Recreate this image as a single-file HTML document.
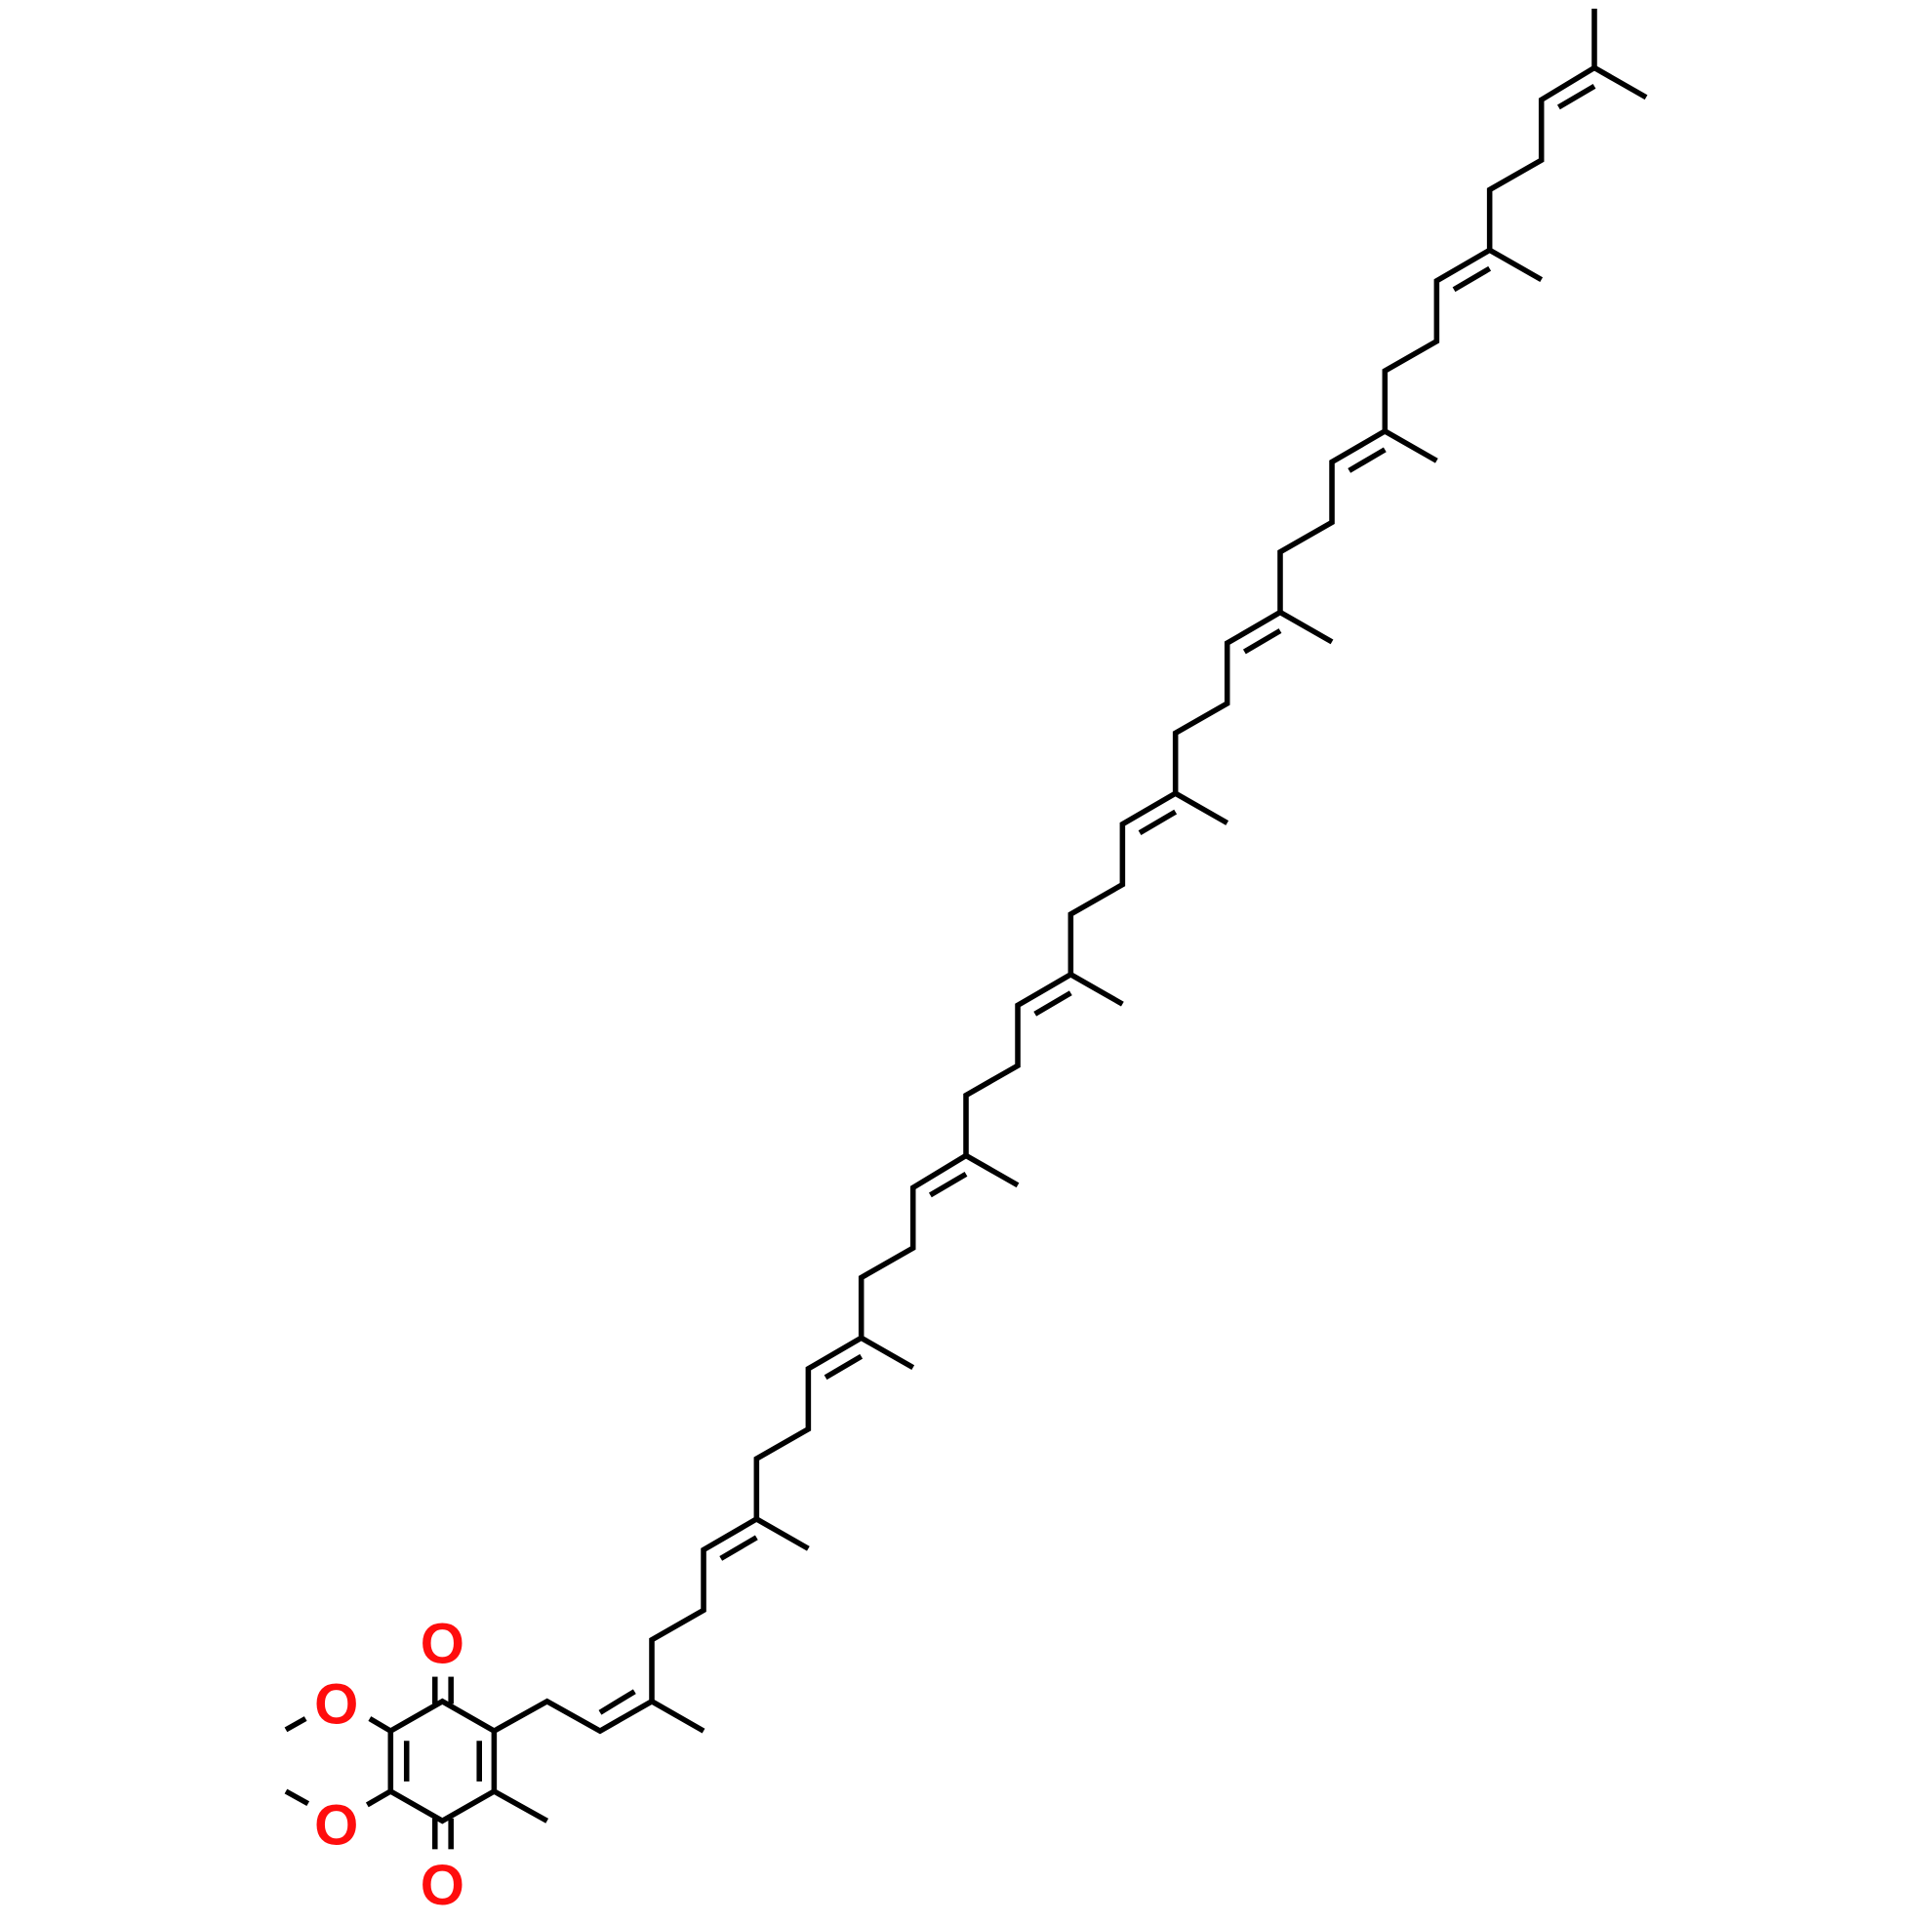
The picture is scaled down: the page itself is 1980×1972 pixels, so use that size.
<!DOCTYPE html>
<html><head><meta charset="utf-8"><style>html,body{margin:0;padding:0;background:#fff}svg{display:block}</style></head>
<body>
<svg width="1980" height="1972" viewBox="0 0 1568 1561.7" xmlns="http://www.w3.org/2000/svg">
<g fill="none" stroke="#000" stroke-width="4.4" stroke-linejoin="miter">
<polyline points="401,1405 444,1381 487,1405 529,1381 529,1331 571,1307 571,1258 614,1233 614,1184 656,1160 656,1111 699,1086 699,1037 741,1013 741,964 784,938 784,889 826,865 826,816 869,791 869,742 911,718 911,669 954,644 954,595 996,571 996,522 1039,497 1039,448 1081,424 1081,375 1124,350 1124,301 1166,277 1166,228 1209,203 1209,154 1251,130 1251,81 1294,55 1294,7"/>
<polygon points="359,1381 401,1405 401,1454 359,1478 317,1454 317,1405"/>
<line x1="330" y1="1413" x2="330" y2="1446"/>
<line x1="389" y1="1413" x2="389" y2="1446"/>
<line x1="353" y1="1361" x2="353" y2="1383"/>
<line x1="366" y1="1361" x2="366" y2="1383"/>
<line x1="353" y1="1476" x2="353" y2="1501"/>
<line x1="366" y1="1476" x2="366" y2="1501"/>
<line x1="317" y1="1405" x2="300" y2="1395"/>
<line x1="248" y1="1395" x2="232" y2="1404"/>
<line x1="317" y1="1454" x2="298" y2="1465"/>
<line x1="250" y1="1464" x2="232" y2="1454"/>
<line x1="401" y1="1454" x2="444" y2="1478"/>
<line x1="487" y1="1390" x2="515" y2="1373"/>
<line x1="529" y1="1381" x2="571" y2="1405"/>
<line x1="614" y1="1233" x2="656" y2="1257"/>
<line x1="699" y1="1086" x2="741" y2="1110"/>
<line x1="784" y1="938" x2="826" y2="962"/>
<line x1="869" y1="791" x2="911" y2="815"/>
<line x1="954" y1="644" x2="996" y2="668"/>
<line x1="1039" y1="497" x2="1081" y2="521"/>
<line x1="1124" y1="350" x2="1166" y2="374"/>
<line x1="1209" y1="203" x2="1251" y2="227"/>
<line x1="1294" y1="55" x2="1336" y2="79"/>
<line x1="585" y1="1265" x2="614" y2="1248"/>
<line x1="670" y1="1118" x2="699" y2="1101"/>
<line x1="755" y1="970" x2="784" y2="953"/>
<line x1="840" y1="823" x2="869" y2="806"/>
<line x1="925" y1="676" x2="954" y2="659"/>
<line x1="1010" y1="529" x2="1039" y2="512"/>
<line x1="1095" y1="382" x2="1124" y2="365"/>
<line x1="1180" y1="235" x2="1209" y2="218"/>
<line x1="1265" y1="87" x2="1294" y2="70"/>
</g>
<g fill="#ff0d0d" font-family="Liberation Sans, sans-serif" font-size="46" font-weight="bold" text-anchor="middle">
<text x="359" y="1350">O</text>
<text x="273" y="1399">O</text>
<text x="273" y="1497">O</text>
<text x="359" y="1546">O</text>
</g>
</svg>
</body></html>
